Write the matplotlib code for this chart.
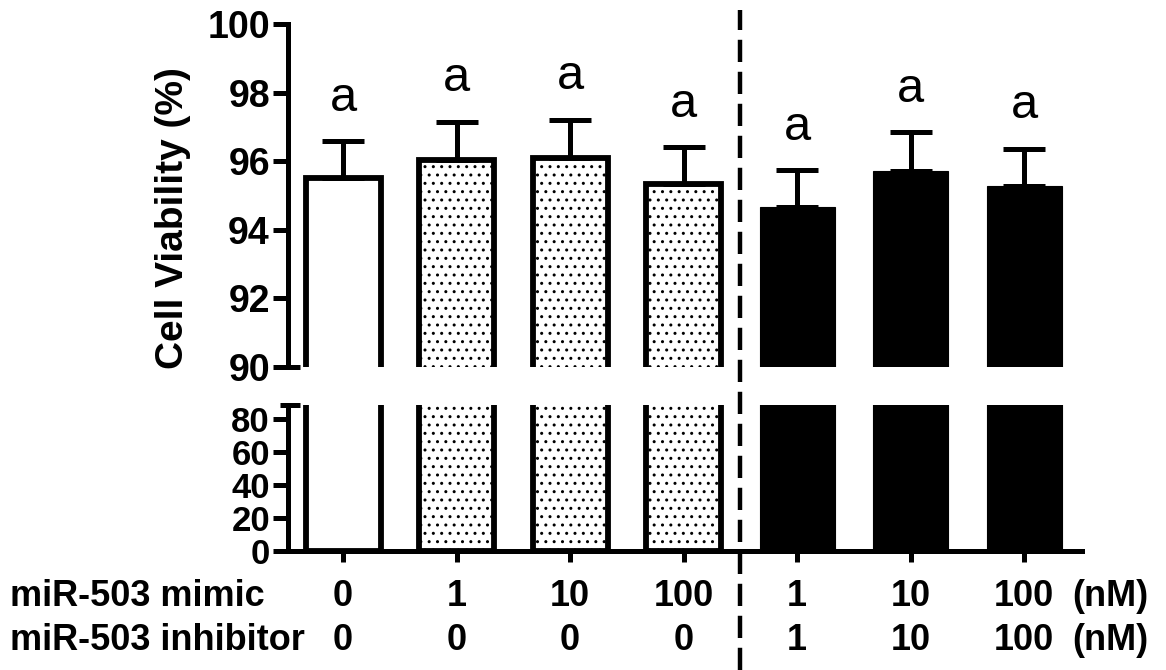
import matplotlib
matplotlib.use("Agg")
import matplotlib.pyplot as plt
from matplotlib.lines import Line2D
from matplotlib.transforms import blended_transform_factory

plt.rcParams['font.family'] = ['Liberation Sans', 'DejaVu Sans']
plt.rcParams['hatch.linewidth'] = 1.0

# --- data ---
mimic = ["0", "1", "10", "100", "1", "10", "100"]
inhibitor = ["0", "0", "0", "0", "1", "10", "100"]
viability = [95.5, 96.03, 96.1, 95.34, 94.66, 95.72, 95.28]
sem = [1.08, 1.12, 1.1, 1.07, 1.07, 1.12, 1.08]
letters = ["a", "a", "a", "a", "a", "a", "a"]
fills = ["white", "white", "white", "white", "black", "black", "black"]
hatches = ["", "..", "..", "..", "", "", ""]

W, H = 1166, 670
fig = plt.figure(figsize=(W / 100, H / 100), dpi=100)

left, right = 288 / W, 1082 / W
ax_top = fig.add_axes([left, 1 - 367 / H, right - left, (367 - 24) / H])
ax_bot = fig.add_axes([left, 1 - 551 / H, right - left, (551 - 405) / H])

x = list(range(len(viability)))
lw = 3.6

for ax in (ax_top, ax_bot):
    ax.bar(x, viability, width=0.66, color=fills, edgecolor="black",
           linewidth=4.2, zorder=2)
    for patch, h, f in zip(ax.patches, hatches, fills):
        patch.set_hatch(h)
        if f == "black":
            patch.set_linewidth(0.8)
    ax.set_xlim(-0.485, 6.51)
    for s in ("top", "right"):
        ax.spines[s].set_visible(False)
    ax.spines["left"].set_linewidth(lw)
    ax.spines["bottom"].set_linewidth(lw)
    ax.tick_params(axis="y", direction="out", length=11, width=lw, pad=2)

# upper panel
ax_top.errorbar(x, viability, yerr=[[0] * len(sem), sem], fmt="none",
                ecolor="black", elinewidth=lw, capsize=15, capthick=lw,
                zorder=3)
ax_top.set_ylim(90, 100)
ax_top.set_yticks([90, 92, 94, 96, 98, 100])
ax_top.set_yticklabels(["90", "92", "94", "96", "98", "100"],
                       fontsize=27, fontweight="bold")
ax_top.spines["bottom"].set_visible(False)
ax_top.set_xticks([])
for xi, v, e, t in zip(x, viability, sem, letters):
    ax_top.annotate(t, (xi, v + e), xytext=(0, 22), textcoords="offset points",
                    ha="center", va="baseline", fontsize=35)
ax_top.plot([0, 0.015], [0, 0], transform=ax_top.transAxes, color="black",
            lw=lw, clip_on=False, solid_capstyle="butt")

# lower panel
ax_bot.set_ylim(0, 88.5)
ax_bot.set_yticks([0, 20, 40, 60, 80])
ax_bot.set_yticklabels(["0", "20", "40", "60", "80"],
                       fontsize=25, fontweight="bold")
ax_bot.tick_params(axis="y", length=11)
ax_bot.set_xticks(x)
ax_bot.set_xticklabels([])
ax_bot.tick_params(axis="x", direction="out", length=8, width=lw)
ax_bot.plot([-0.01, 0.015], [1, 1], transform=ax_bot.transAxes, color="black",
            lw=lw, clip_on=False, solid_capstyle="butt")

# dashed separator spanning the figure
tr = blended_transform_factory(ax_bot.transData, fig.transFigure)
fig.add_artist(Line2D([3.5, 3.5], [0, 1 - 10 / H], transform=tr,
                      color="black", lw=3.2, linestyle=(0, (5, 2.2))))

# group rows under the axis
rows = [("miR-503 mimic", mimic, 1 - 597 / H),
        ("miR-503 inhibitor", inhibitor, 1 - 641 / H)]
for name, labels, yf in rows:
    fig.text(10 / W, yf, name, ha="left", va="center", fontsize=26,
             fontweight="bold")
    for xi, lab in zip(x, labels):
        fig.text(xi, yf, lab, transform=tr, ha="center", va="center",
                 fontsize=26, fontweight="bold")
    fig.text(1110 / W, yf, "(nM)", ha="center", va="center", fontsize=26,
             fontweight="bold")

fig.text(173 / W, 1 - 218 / H, "Cell Viability (%)", rotation=90,
         ha="center", va="center", fontsize=28, fontweight="bold")

fig.savefig("out.png", dpi=100)
